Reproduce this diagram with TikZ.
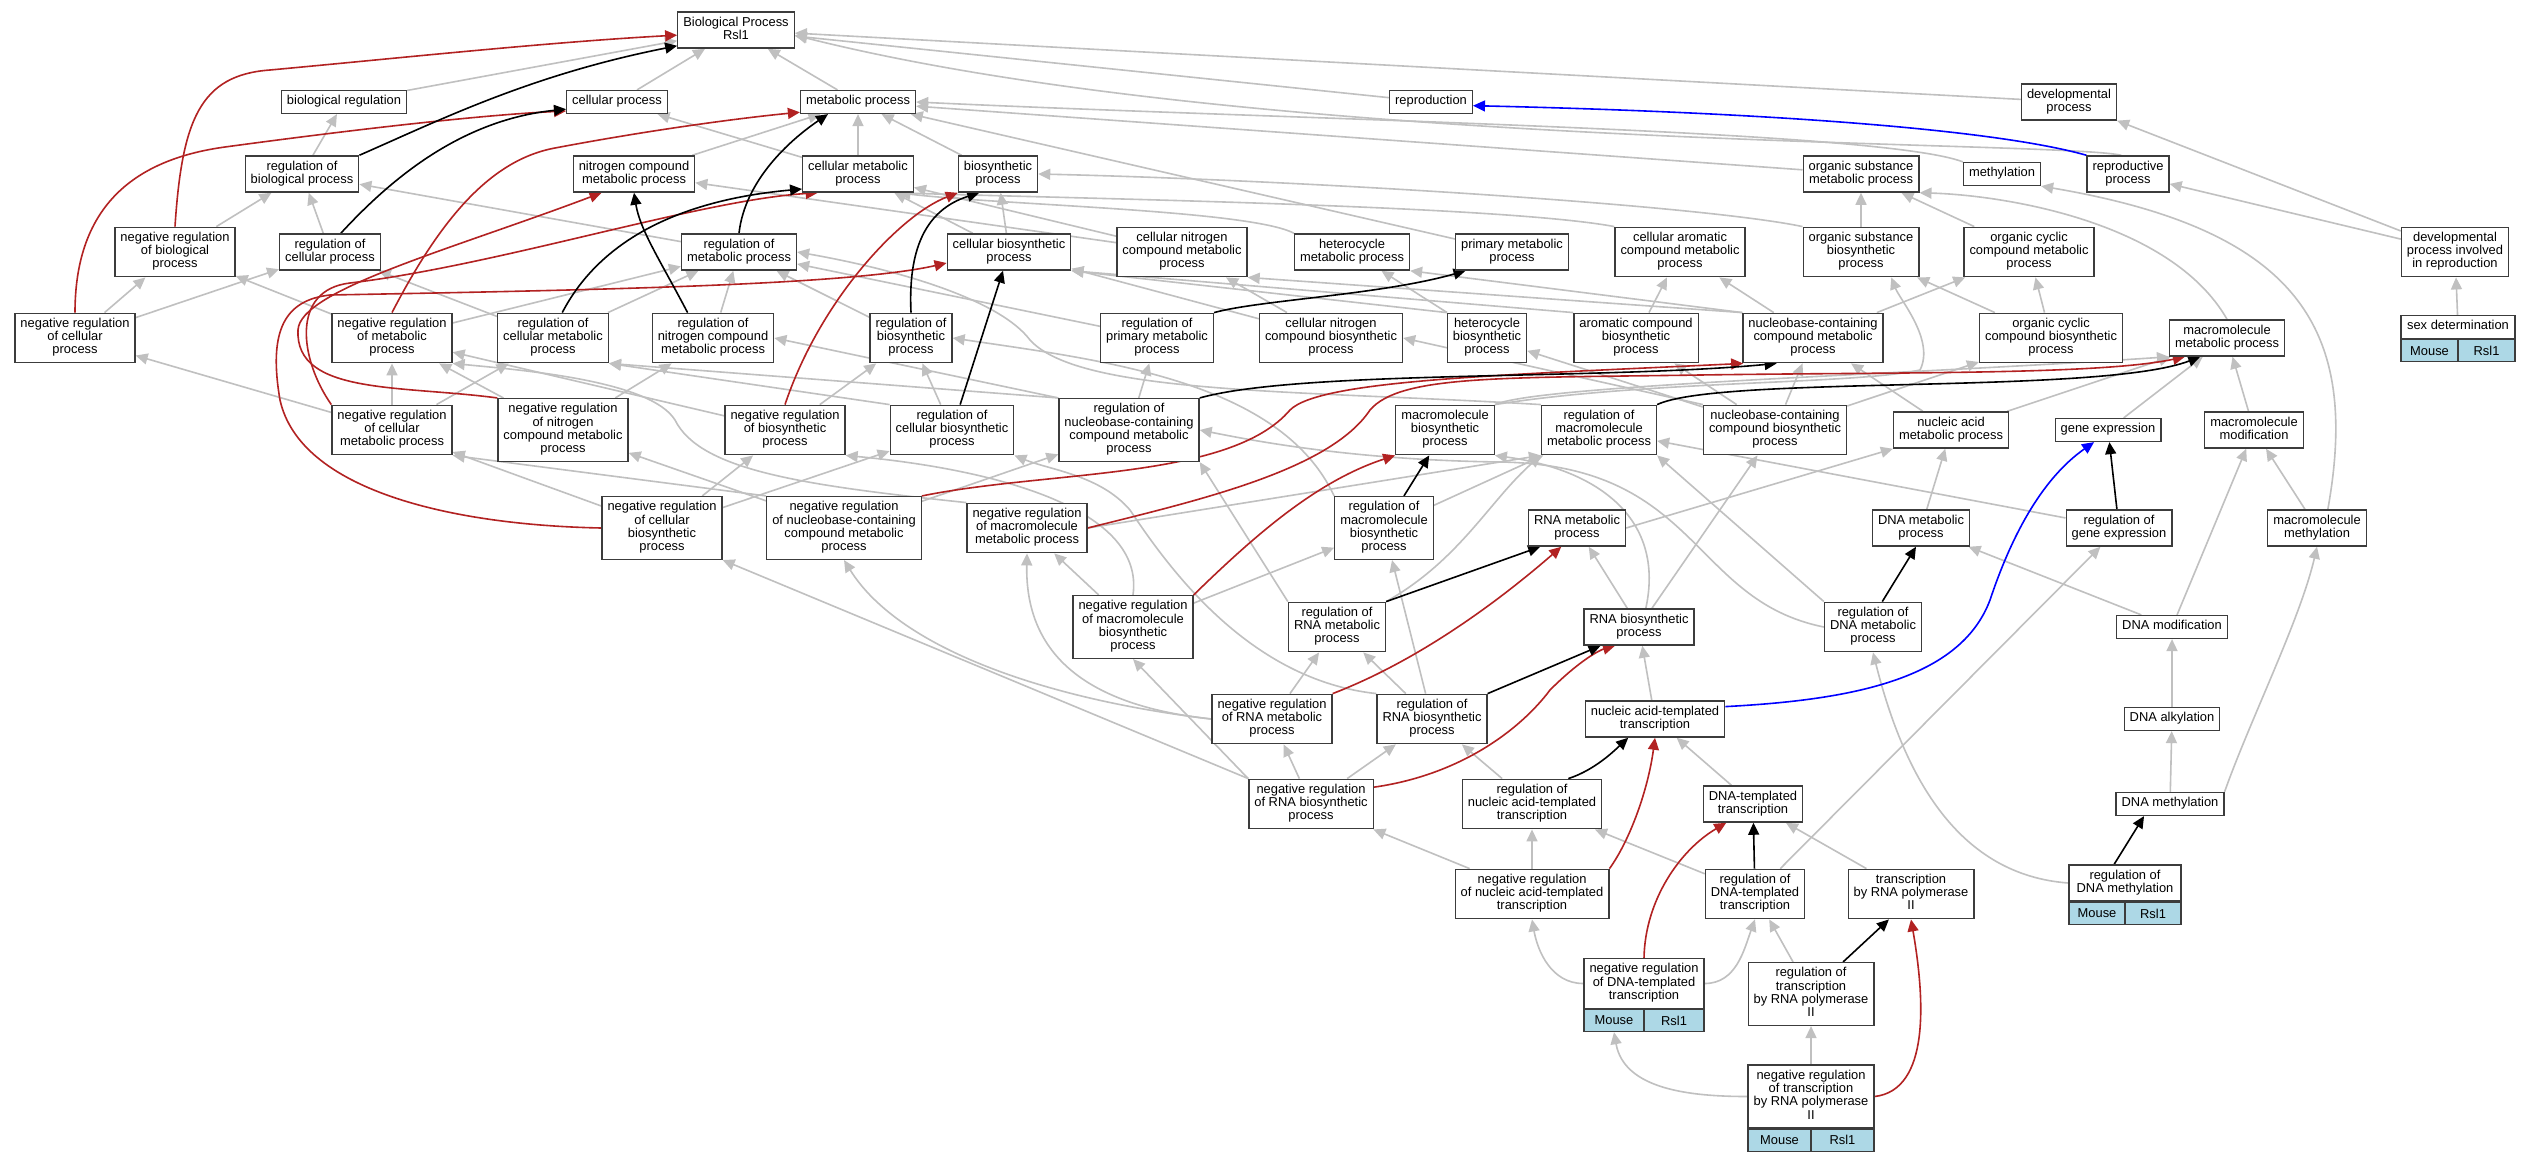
\documentclass[tikz,border=0pt]{standalone}
\usepackage{fontspec}
\setmainfont{Liberation Sans}
\usetikzlibrary{arrows.meta}
\pgfdeclarelayer{back}
\pgfdeclarelayer{edges}
\pgfsetlayers{back,edges,main}
\definecolor{isagray}{RGB}{192,192,192}
\definecolor{negred}{RGB}{178,34,34}
\definecolor{orgblue}{RGB}{173,216,230}
\definecolor{boxline}{RGB}{60,60,60}
\begin{document}
\begin{tikzpicture}[x=1bp,y=1bp]
        \tikzstyle{every node}+=[font=\fontsize{12.9bp}{13.3bp}\selectfont]
        \tikzstyle{term}=[draw=boxline, line width=1.3bp, fill=white, align=center, inner xsep=5.5bp, inner ysep=4.8bp, execute at begin node=\strut, execute at end node=\strut]
        \tikzstyle{orgcell}=[draw=boxline, line width=1.3bp, fill=orgblue, inner sep=0pt, minimum height=22bp]
        \tikzstyle{isa}=[isagray, line width=1.6bp, -{Triangle[length=12bp,width=11bp]}]
        \tikzstyle{reg}=[black, line width=1.6bp, -{Triangle[length=12bp,width=11bp]}]
        \tikzstyle{negreg}=[negred, line width=1.6bp, -{Triangle[length=12bp,width=11bp]}]
        \tikzstyle{partof}=[blue, line width=1.6bp, -{Triangle[length=12bp,width=11bp]}]
        \useasboundingbox (0,0) rectangle (2531,-1160);
        \begin{pgfonlayer}{back}
        \fill[white] (0,0) rectangle (2531,-1160);
        \end{pgfonlayer}
        \node[term] (bp) at (736,-30) {Biological Process\\Rsl1};
        \node[term] (bioreg) at (344,-102) {biological regulation};
        \node[term] (cellp) at (617,-102) {cellular process};
        \node[term] (metp) at (858,-102) {metabolic process};
        \node[term] (repro) at (1431,-102) {reproduction};
        \node[term] (devp) at (2069,-102) {developmental\\process};
        \node[term] (rbp) at (302,-174) {regulation of\\biological process};
        \node[term] (ncmp) at (634,-174) {nitrogen compound\\metabolic process};
        \node[term] (cmp) at (858,-174) {cellular metabolic\\process};
        \node[term] (bsp) at (998,-174) {biosynthetic\\process};
        \node[term] (osmp) at (1861,-174) {organic substance\\metabolic process};
        \node[term] (methyl) at (2002,-174) {methylation};
        \node[term] (reprop) at (2128,-174) {reproductive\\process};
        \node[term] (nrbp) at (175,-252) {negative regulation\\of biological\\process};
        \node[term] (rcp) at (330,-252) {regulation of\\cellular process};
        \node[term] (rmp) at (739,-252) {regulation of\\metabolic process};
        \node[term] (cbsp) at (1009,-252) {cellular biosynthetic\\process};
        \node[term] (cncmp) at (1182,-252) {cellular nitrogen\\compound metabolic\\process};
        \node[term] (hmp) at (1352,-252) {heterocycle\\metabolic process};
        \node[term] (pmp) at (1512,-252) {primary metabolic\\process};
        \node[term] (camp) at (1680,-252) {cellular aromatic\\compound metabolic\\process};
        \node[term] (osbp) at (1861,-252) {organic substance\\biosynthetic\\process};
        \node[term] (occmp) at (2029,-252) {organic cyclic\\compound metabolic\\process};
        \node[term] (devrep) at (2455,-252) {developmental\\process involved\\in reproduction};
        \node[term] (nrcp) at (75,-338) {negative regulation\\of cellular\\process};
        \node[term] (nrmp) at (392,-338) {negative regulation\\of metabolic\\process};
        \node[term] (rcmp) at (553,-338) {regulation of\\cellular metabolic\\process};
        \node[term] (rncmp) at (713,-338) {regulation of\\nitrogen compound\\metabolic process};
        \node[term] (rbsp) at (911,-338) {regulation of\\biosynthetic\\process};
        \node[term] (rpmp) at (1157,-338) {regulation of\\primary metabolic\\process};
        \node[term] (cncbp) at (1331,-338) {cellular nitrogen\\compound biosynthetic\\process};
        \node[term] (hbp) at (1487,-338) {heterocycle\\biosynthetic\\process};
        \node[term] (acbp) at (1636,-338) {aromatic compound\\biosynthetic\\process};
        \node[term] (nccmp) at (1813,-338) {nucleobase-containing\\compound metabolic\\process};
        \node[term] (occbp) at (2051,-338) {organic cyclic\\compound biosynthetic\\process};
        \node[term] (mmp) at (2227,-338) {macromolecule\\metabolic process};
        \node[term, minimum width=114bp] (sexdet) at (2458,-327) {sex determination};
        \node[orgcell, anchor=north west, minimum width=57bp] (sexdetm) at (sexdet.south west) {Mouse};
        \node[orgcell, anchor=north east, minimum width=57bp] (sexdetr) at (sexdet.south east) {Rsl1};
        \node[term] (nrcmp) at (392,-430) {negative regulation\\of cellular\\metabolic process};
        \node[term] (nrncmp) at (563,-430) {negative regulation\\of nitrogen\\compound metabolic\\process};
        \node[term] (nrbsp) at (785,-430) {negative regulation\\of biosynthetic\\process};
        \node[term] (rcbsp) at (952,-430) {regulation of\\cellular biosynthetic\\process};
        \node[term] (rnccmp) at (1129,-430) {regulation of\\nucleobase-containing\\compound metabolic\\process};
        \node[term] (mbsp) at (1445,-430) {macromolecule\\biosynthetic\\process};
        \node[term] (rmmp) at (1599,-430) {regulation of\\macromolecule\\metabolic process};
        \node[term] (nccbp) at (1775,-430) {nucleobase-containing\\compound biosynthetic\\process};
        \node[term] (nametp) at (1951,-430) {nucleic acid\\metabolic process};
        \node[term] (genex) at (2108,-430) {gene expression};
        \node[term] (mmod) at (2254,-430) {macromolecule\\modification};
        \node[term] (nrcbsp) at (662,-528) {negative regulation\\of cellular\\biosynthetic\\process};
        \node[term] (nrnccmp) at (844,-528) {negative regulation\\of nucleobase-containing\\compound metabolic\\process};
        \node[term] (nrmmp) at (1027,-528) {negative regulation\\of macromolecule\\metabolic process};
        \node[term] (rmbsp) at (1384,-528) {regulation of\\macromolecule\\biosynthetic\\process};
        \node[term] (rnamp) at (1577,-528) {RNA metabolic\\process};
        \node[term] (dnamp) at (1921,-528) {DNA metabolic\\process};
        \node[term] (rgenex) at (2119,-528) {regulation of\\gene expression};
        \node[term] (mmeth) at (2317,-528) {macromolecule\\methylation};
        \node[term] (nrmbsp) at (1133,-627) {negative regulation\\of macromolecule\\biosynthetic\\process};
        \node[term] (rrnamp) at (1337,-627) {regulation of\\RNA metabolic\\process};
        \node[term] (rnabsp) at (1639,-627) {RNA biosynthetic\\process};
        \node[term] (rdnamp) at (1873,-627) {regulation of\\DNA metabolic\\process};
        \node[term] (dnamod) at (2172,-627) {DNA modification};
        \node[term] (nrrnamp) at (1272,-719) {negative regulation\\of RNA metabolic\\process};
        \node[term] (rrnabsp) at (1432,-719) {regulation of\\RNA biosynthetic\\process};
        \node[term] (natt) at (1655,-719) {nucleic acid-templated\\transcription};
        \node[term] (dnaalk) at (2172,-719) {DNA alkylation};
        \node[term] (nrrnabsp) at (1311,-804) {negative regulation\\of RNA biosynthetic\\process};
        \node[term] (rnatt) at (1532,-804) {regulation of\\nucleic acid-templated\\transcription};
        \node[term] (dtt) at (1753,-804) {DNA-templated\\transcription};
        \node[term] (dnameth) at (2170,-804) {DNA methylation};
        \node[term] (nrnatt) at (1532,-894) {negative regulation\\of nucleic acid-templated\\transcription};
        \node[term] (rdtt) at (1755,-894) {regulation of\\DNA-templated\\transcription};
        \node[term] (trp2) at (1911,-894) {transcription\\by RNA polymerase\\II};
        \node[term, minimum width=112bp] (rdnameth) at (2125,-883) {regulation of\\DNA methylation};
        \node[orgcell, anchor=north west, minimum width=56bp] (rdnamethm) at (rdnameth.south west) {Mouse};
        \node[orgcell, anchor=north east, minimum width=56bp] (rdnamethr) at (rdnameth.south east) {Rsl1};
        \node[term, minimum width=120bp] (nrdtt) at (1644,-983.5) {negative regulation\\of DNA-templated\\transcription};
        \node[orgcell, anchor=north west, minimum width=60bp] (nrdttm) at (nrdtt.south west) {Mouse};
        \node[orgcell, anchor=north east, minimum width=60bp] (nrdttr) at (nrdtt.south east) {Rsl1};
        \node[term] (rtrp2) at (1811,-994) {regulation of\\transcription\\by RNA polymerase\\II};
        \node[term, minimum width=126bp] (nrtrp2) at (1811,-1096.5) {negative regulation\\of transcription\\by RNA polymerase\\II};
        \node[orgcell, anchor=north west, minimum width=63bp] (nrtrp2m) at (nrtrp2.south west) {Mouse};
        \node[orgcell, anchor=north east, minimum width=63bp] (nrtrp2r) at (nrtrp2.south east) {Rsl1};
        \begin{pgfonlayer}{edges}
        \draw[isa] (bioreg) -- (bp);
        \draw[isa] (cellp) -- (bp);
        \draw[isa] (metp) -- (bp);
        \draw[isa] (repro) -- (bp);
        \draw[isa] (devp) -- (bp);
        \draw[isa] (reprop.110) .. controls (2050,-140) and (1250,-150) .. (bp.-5);
        \draw[isa] (rbp) -- (bioreg);
        \draw[isa] (ncmp) -- (metp);
        \draw[isa] (cmp) -- (metp);
        \draw[isa] (cmp) -- (cellp);
        \draw[isa] (bsp) -- (metp);
        \draw[isa] (osmp) -- (metp);
        \draw[isa] (methyl.north west) .. controls (1880,-130) and (1300,-120) .. (metp.east);
        \draw[isa] (pmp) -- (metp);
        \draw[isa] (nrbp) -- (rbp);
        \draw[isa] (rcp) -- (rbp);
        \draw[isa] (rmp) -- (rbp);
        \draw[isa] (cbsp) -- (cmp);
        \draw[isa] (cbsp) -- (bsp);
        \draw[isa] (cncmp) -- (ncmp);
        \draw[isa] (cncmp) -- (cmp);
        \draw[isa] (hmp.north west) .. controls (1250,-210) and (1000,-205) .. (cmp.-25);
        \draw[isa] (camp.north west) .. controls (1500,-205) and (1050,-198) .. (cmp.-25);
        \draw[isa] (osbp.north west) .. controls (1700,-205) and (1300,-180) .. (bsp.east);
        \draw[isa] (osbp) -- (osmp);
        \draw[isa] (occmp) -- (osmp);
        \draw[isa] (devrep) -- (devp);
        \draw[isa] (devrep) -- (reprop);
        \draw[isa] (sexdet) -- (devrep);
        \draw[isa] (nrcp) -- (nrbp);
        \draw[isa] (nrcp) -- (rcp);
        \draw[isa] (nrmp) -- (nrbp);
        \draw[isa] (nrmp) -- (rmp);
        \draw[isa] (rcmp) -- (rcp);
        \draw[isa] (rcmp) -- (rmp);
        \draw[isa] (rncmp) -- (rmp);
        \draw[isa] (rbsp) -- (rmp);
        \draw[isa] (rpmp) -- (rmp);
        \draw[isa] (rmmp.north west) .. controls (1300,-390) and (1080,-395) .. (1030,-340) .. controls (1000,-300) and (900,-270) .. (rmp.east);
        \draw[isa] (cncbp) -- (cncmp);
        \draw[isa] (cncbp) -- (cbsp);
        \draw[isa] (hbp) -- (hmp);
        \draw[isa] (hbp.north west) -- (cbsp.south east);
        \draw[isa] (acbp) -- (camp);
        \draw[isa] (acbp.north west) -- (cbsp.south east);
        \draw[isa] (nccmp.north west) -- (cncmp.south east);
        \draw[isa] (nccmp.north west) -- (hmp.south east);
        \draw[isa] (nccmp) -- (camp);
        \draw[isa] (nccmp) -- (occmp);
        \draw[isa] (occbp) -- (occmp);
        \draw[isa] (occbp) -- (osbp);
        \draw[isa] (mmp.north) .. controls (2170,-220) and (2000,-195) .. (osmp.south east);
        \draw[isa] (nrcmp) -- (nrmp);
        \draw[isa] (nrcmp) -- (rcmp);
        \draw[isa] (nrcmp) -- (nrcp);
        \draw[isa] (nrncmp) -- (nrmp);
        \draw[isa] (nrncmp) -- (rncmp);
        \draw[isa] (nrbsp) -- (nrmp);
        \draw[isa] (nrbsp) -- (rbsp);
        \draw[isa] (rcbsp) -- (rbsp);
        \draw[isa] (rcbsp.north west) -- (rcmp.south east);
        \draw[isa] (rnccmp.north west) -- (rcmp.south east);
        \draw[isa] (rnccmp.north west) -- (rncmp.east);
        \draw[isa] (rnccmp) -- (rpmp);
        \draw[isa] (mbsp.north east) .. controls (1650,-380) and (1850,-385) .. (1920,-370) .. controls (1935,-340) and (1900,-300) .. (osbp.-40);
        \draw[isa] (mbsp.north east) .. controls (1540,-385) and (1900,-375) .. (mmp.south west);
        \draw[isa] (rmbsp.north west) .. controls (1280,-380) and (1100,-360) .. (rbsp.east);
        \draw[isa] (rmbsp) -- (rmmp);
        \draw[isa] (nccbp) -- (nccmp);
        \draw[isa] (nccbp.north west) -- (cncbp.east);
        \draw[isa] (nccbp) -- (hbp);
        \draw[isa] (nccbp) -- (acbp);
        \draw[isa] (nccbp) -- (occbp);
        \draw[isa] (nametp) -- (nccmp);
        \draw[isa] (nametp) -- (mmp);
        \draw[isa] (genex) -- (mmp);
        \draw[isa] (mmod) -- (mmp);
        \draw[isa] (nrcbsp) -- (nrcmp);
        \draw[isa] (nrcbsp) -- (nrbsp);
        \draw[isa] (nrcbsp) -- (rcbsp);
        \draw[isa] (nrnccmp) -- (nrncmp);
        \draw[isa] (nrnccmp.north west) -- (nrcmp.south east);
        \draw[isa] (nrnccmp) -- (rnccmp);
        \draw[isa] (nrmmp.north west) .. controls (800,-485) and (700,-470) .. (675,-420) .. controls (650,-380) and (520,-370) .. (nrmp.south east);
        \draw[isa] (nrmmp.east) -- (rmmp.south west);
        \draw[isa] (nrmbsp.north) .. controls (1145,-510) and (1000,-470) .. (nrbsp.south east);
        \draw[isa] (nrmbsp) -- (nrmmp);
        \draw[isa] (nrmbsp) -- (rmbsp);
        \draw[isa] (rnamp.east) -- (nametp.south west);
        \draw[isa] (dnamp) -- (nametp);
        \draw[isa] (rgenex) -- (rmmp);
        \draw[isa] (mmeth.60) .. controls (2360,-330) and (2300,-230) .. (methyl.south east);
        \draw[isa] (mmeth) -- (mmod);
        \draw[isa] (dnamod) -- (dnamp);
        \draw[isa] (dnamod) -- (mmod);
        \draw[isa] (rnabsp.70) .. controls (1665,-520) and (1600,-470) .. (mbsp.south east);
        \draw[isa] (rnabsp) -- (rnamp);
        \draw[isa] (rnabsp) -- (nccbp);
        \draw[isa] (rrnamp.north west) -- (rnccmp.south east);
        \draw[isa] (rrnamp.north east) .. controls (1460,-560) and (1490,-500) .. (rmmp.south west);
        \draw[isa] (rdnamp.west) .. controls (1690,-600) and (1700,-465) .. (1500,-462) .. controls (1350,-460) and (1250,-440) .. (rnccmp.east);
        \draw[isa] (rdnamp.north west) -- (rmmp.south east);
        \draw[isa] (dnaalk) -- (dnamod);
        \draw[isa] (natt) -- (rnabsp);
        \draw[isa] (nrrnamp) -- (rrnamp);
        \draw[isa] (nrrnamp.west) .. controls (1050,-700) and (900,-650) .. (nrnccmp.south);
        \draw[isa] (nrrnamp.west) .. controls (1080,-705) and (1025,-650) .. (nrmmp.south);
        \draw[isa] (rrnabsp) -- (rrnamp);
        \draw[isa] (rrnabsp) -- (rmbsp);
        \draw[isa] (rrnabsp.north west) .. controls (1250,-680) and (1170,-570) .. (1130,-510) .. controls (1100,-475) and (1050,-470) .. (rcbsp.south east);
        \draw[isa] (nrrnabsp) -- (nrrnamp);
        \draw[isa] (nrrnabsp) -- (rrnabsp);
        \draw[isa] (nrrnabsp.north west) -- (nrcbsp.south east);
        \draw[isa] (nrrnabsp.north west) -- (nrmbsp.south);
        \draw[isa] (rnatt) -- (rrnabsp);
        \draw[isa] (dtt) -- (natt);
        \draw[isa] (dnameth) -- (dnaalk);
        \draw[isa] (dnameth.north east) .. controls (2250,-720) and (2300,-620) .. (mmeth.south);
        \draw[isa] (nrnatt) -- (nrrnabsp);
        \draw[isa] (nrnatt) -- (rnatt);
        \draw[isa] (rdtt) -- (rnatt);
        \draw[isa] (rdtt) -- (rgenex);
        \draw[isa] (trp2) -- (dtt);
        \draw[isa] (rdnameth.west) .. controls (1960,-875) and (1905,-780) .. (rdnamp.south);
        \draw[isa] (nrdtt.west) to[out=180,in=-80] (nrnatt.south);
        \draw[isa] (nrdtt.east) to[out=0,in=-110] (rdtt.south);
        \draw[isa] (rtrp2) -- (rdtt);
        \draw[isa] (nrtrp2.west) to[out=180,in=-80] (nrdttm.south);
        \draw[isa] (nrtrp2) -- (rtrp2);
        \draw[negreg] (nrbp.north) .. controls (182,-120) and (200,-75) .. (270,-70) .. controls (400,-58) and (550,-42) .. (bp.185);
        \draw[negreg] (nrcp.north) .. controls (75,-210) and (130,-160) .. (225,-147) .. controls (350,-130) and (480,-115) .. (cellp.190);
        \draw[negreg] (nrmp.north) .. controls (440,-220) and (490,-160) .. (555,-148) .. controls (650,-130) and (740,-118) .. (metp.190);
        \draw[negreg] (nrcmp.north west) .. controls (300,-360) and (290,-290) .. (350,-283) .. controls (500,-265) and (700,-200) .. (cmp.205);
        \draw[negreg] (nrncmp.north west) .. controls (400,-385) and (295,-395) .. (298,-330) .. controls (300,-290) and (450,-250) .. (ncmp.210);
        \draw[negreg] (nrbsp.north) .. controls (820,-300) and (900,-215) .. (bsp.south west);
        \draw[negreg] (nrcbsp.west) .. controls (450,-525) and (300,-490) .. (280,-400) .. controls (268,-330) and (285,-300) .. (330,-295) .. controls (600,-290) and (850,-285) .. (cbsp.190);
        \draw[negreg] (nrnccmp.north east) .. controls (1050,-470) and (1230,-480) .. (1290,-410) .. controls (1320,-380) and (1500,-375) .. (nccmp.200);
        \draw[negreg] (nrmmp.east) .. controls (1200,-500) and (1330,-470) .. (1370,-410) .. controls (1400,-375) and (1500,-378) .. (1700,-375) .. controls (1900,-372) and (2100,-375) .. (mmp.204);
        \draw[negreg] (nrmbsp.north east) .. controls (1260,-530) and (1320,-480) .. (mbsp.south west);
        \draw[negreg] (nrrnamp.north east) .. controls (1420,-660) and (1500,-600) .. (rnamp.230);
        \draw[negreg] (nrrnabsp.15) .. controls (1460,-775) and (1520,-730) .. (1550,-690) .. controls (1580,-660) and (1600,-650) .. (rnabsp.218);
        \draw[negreg] (nrnatt.north east) .. controls (1630,-840) and (1648,-790) .. (natt.south);
        \draw[negreg] (nrdtt.north) .. controls (1645,-900) and (1680,-850) .. (dtt.215);
        \draw[negreg] (nrtrp2.east) .. controls (1930,-1090) and (1925,-1000) .. (trp2.south);
        \draw[reg] (rbp.north east) .. controls (440,-120) and (530,-75) .. (bp.195);
        \draw[reg] (rcp.60) .. controls (390,-180) and (460,-120) .. (cellp.188);
        \draw[reg] (rmp.north) .. controls (745,-180) and (790,-140) .. (metp.202);
        \draw[reg] (rcmp.70) .. controls (600,-240) and (680,-200) .. (cmp.195);
        \draw[reg] (rncmp.135) .. controls (660,-260) and (640,-230) .. (ncmp.south);
        \draw[reg] (rbsp.north) .. controls (908,-250) and (925,-210) .. (bsp.225);
        \draw[reg] (rcbsp) -- (cbsp);
        \draw[reg] (rpmp.north east) .. controls (1260,-300) and (1380,-295) .. (pmp.202);
        \draw[reg] (rnccmp.north east) .. controls (1300,-370) and (1600,-380) .. (nccmp.215);
        \draw[reg] (rmbsp) -- (mbsp);
        \draw[reg] (rmmp.north east) .. controls (1720,-375) and (2100,-395) .. (mmp.215);
        \draw[reg] (rrnamp.north east) -- (rnamp.207);
        \draw[reg] (rrnabsp.north east) -- (rnabsp.206);
        \draw[reg] (rdnamp.70) -- (dnamp.255);
        \draw[reg] (rgenex) -- (genex);
        \draw[reg] (rnatt.35) .. controls (1595,-770) and (1615,-750) .. (natt.215);
        \draw[reg] (rdtt) -- (dtt);
        \draw[reg] (rtrp2.45) -- (trp2.229);
        \draw[reg] (rdnameth.120) -- (dnameth.205);
        \draw[partof] (reprop.north west) .. controls (1990,-128) and (1750,-112) .. (repro.355);
        \draw[partof] (natt.10) .. controls (1850,-700) and (1960,-680) .. (1990,-600) .. controls (2010,-540) and (2040,-480) .. (genex.221);
        \end{pgfonlayer}
        \end{tikzpicture}
\end{document}
